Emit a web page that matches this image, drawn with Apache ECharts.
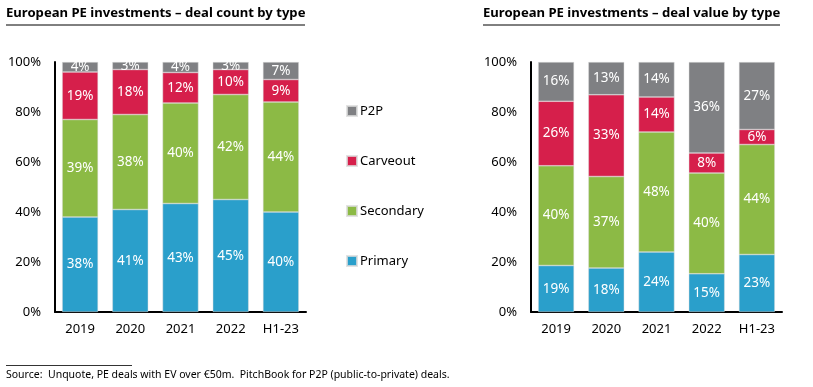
<!DOCTYPE html>
<html><head><meta charset="utf-8">
<script src="https://cdn.jsdelivr.net/npm/echarts@6/dist/echarts.min.js"></script>
<style>html,body{margin:0;padding:0;background:#fff}#c{width:813px;height:387px}</style>
</head><body><div id="c"></div>
<script>
const categories = ['2019', '2020', '2021', '2022', 'H1-23'];
const yTicks = ['0%', '20%', '40%', '60%', '80%', '100%'];
const seriesNames = ['Primary', 'Secondary', 'Carveout', 'P2P'];
// deal count by type (%)
const countPrimary   = [38, 41, 43.4, 45, 40];
const countSecondary = [39, 38, 40.2, 42, 44];
const countCarveout  = [19, 18, 12.2, 10, 9];
const countP2P       = [4, 3, 4.2, 3, 7];
// deal value by type (%)
const valuePrimary   = [18.6, 17.6, 24, 15.3, 23];
const valueSecondary = [39.9, 36.6, 48, 40.3, 44];
const valueCarveout  = [25.8, 32.7, 14, 8.0, 6];
const valueP2P       = [15.7, 13.1, 14, 36.4, 27];

const titleLeft = 'European PE investments \u2013 deal count by type';
const titleRight = 'European PE investments \u2013 deal value by type';
const sourceText = 'Source:  Unquote, PE deals with EV over \u20ac50m.  PitchBook for P2P (public-to-private) deals.';

const colors = {Primary: '#2a9fcb', Secondary: '#8cba45', Carveout: '#d61f4b', P2P: '#7f8083'};
const FONT = 'Noto Sans';

const chart = echarts.init(document.getElementById('c'), null, {renderer: 'canvas'});

const grids = [
  {left: 55, top: 62, width: 251, height: 250},
  {left: 531, top: 62, width: 251, height: 250}
];
function xAxis(i) {
  return {type: 'category', gridIndex: i, data: categories,
    axisLine: {lineStyle: {color: '#000', width: 2}}, axisTick: {show: false},
    axisLabel: {color: '#000', fontSize: 13, fontFamily: FONT, margin: 11}};
}
function yAxis(i) {
  return {type: 'value', gridIndex: i, min: 0, max: 100, interval: 20,
    axisLine: {show: true, lineStyle: {color: '#000', width: 2}}, axisTick: {show: false},
    splitLine: {show: false},
    axisLabel: {color: '#000', fontSize: 13, fontFamily: FONT, margin: 14,
      formatter: v => yTicks[Math.round(v / 20)]}};
}
function bar(name, data, i) {
  return {name, type: 'bar', stack: 's' + i, xAxisIndex: i, yAxisIndex: i, data,
    barWidth: 36,
    itemStyle: {color: colors[name], borderColor: 'rgba(220,220,220,0.8)', borderWidth: 0.6},
    label: {show: true, position: 'inside', color: '#fff', fontSize: 13.5, fontFamily: FONT,
      formatter: p => Math.round(p.value) + '%'}};
}
const left = [countPrimary, countSecondary, countCarveout, countP2P];
const right = [valuePrimary, valueSecondary, valueCarveout, valueP2P];
const series = [];
seriesNames.forEach((n, k) => series.push(bar(n, left[k], 0)));
seriesNames.forEach((n, k) => series.push(bar(n, right[k], 1)));

chart.setOption({
  animation: false,
  grid: grids,
  xAxis: [xAxis(0), xAxis(1)],
  yAxis: [yAxis(0), yAxis(1)],
  legend: {orient: 'vertical', left: 346, top: 104, padding: 0, itemWidth: 10, itemHeight: 10, itemGap: 36,
    data: ['P2P', 'Carveout', 'Secondary', 'Primary'],
    icon: 'rect',
    textStyle: {color: '#000', fontSize: 13, fontFamily: FONT, lineHeight: 14, padding: [0, 0, 0, -2]}},
  graphic: [
    {type: 'text', left: 6, top: 7, style: {text: titleLeft, font: 'bold 13.1px "Noto Sans"', fill: '#000'}},
    {type: 'line', shape: {x1: 6, y1: 25, x2: 305, y2: 25}, style: {stroke: '#000', lineWidth: 1}},
    {type: 'text', left: 483, top: 7, style: {text: titleRight, font: 'bold 13.1px "Noto Sans"', fill: '#000'}},
    {type: 'line', shape: {x1: 483, y1: 25, x2: 780, y2: 25}, style: {stroke: '#000', lineWidth: 1}},
    {type: 'line', shape: {x1: 6, y1: 365.5, x2: 132, y2: 365.5}, style: {stroke: '#000', lineWidth: 0.8}},
    {type: 'text', left: 6, top: 370, style: {text: sourceText, font: '10.5px "Noto Sans"', fill: '#000'}}
  ],
  series
});
</script></body></html>
